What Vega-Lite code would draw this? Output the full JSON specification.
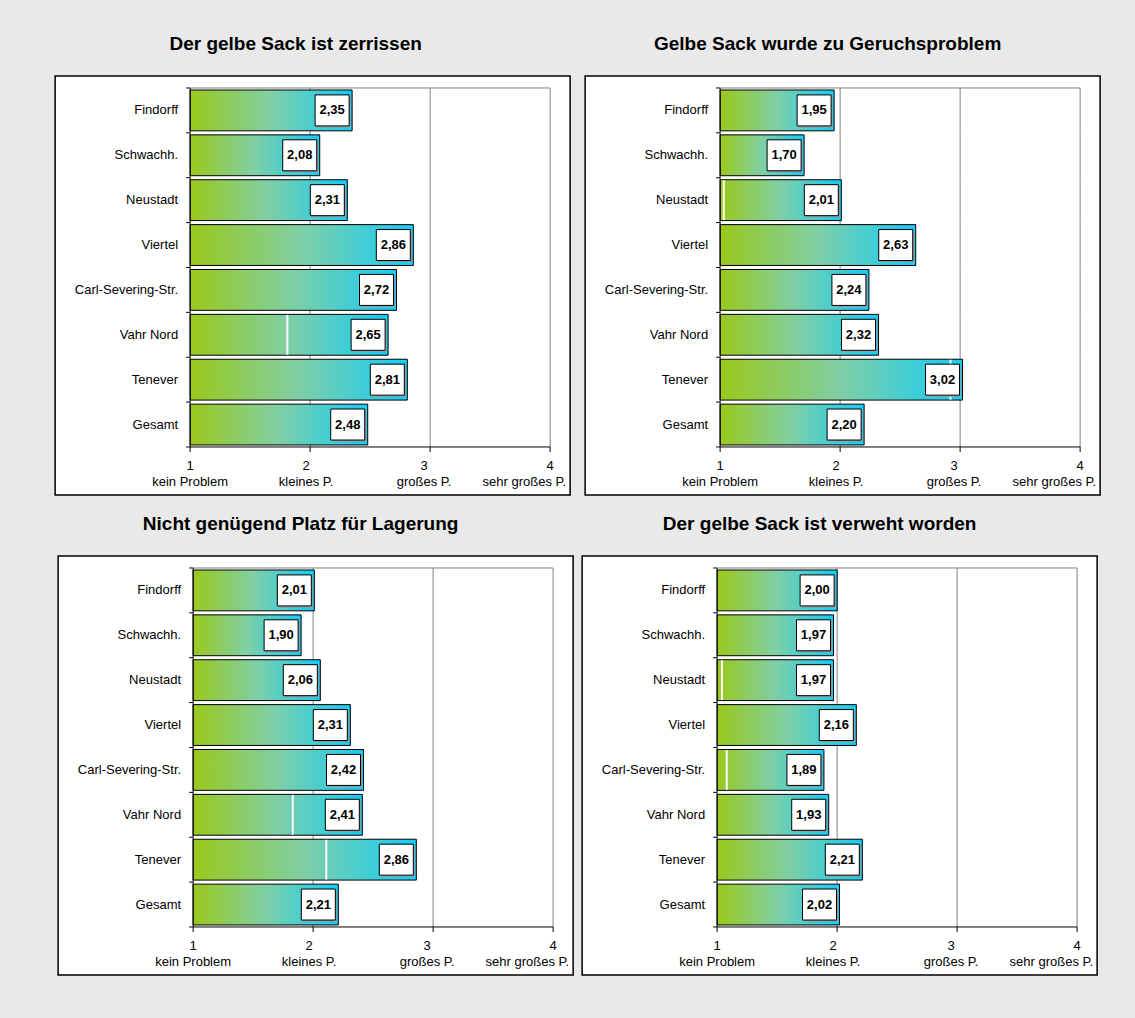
{
  "$schema": "https://vega.github.io/schema/vega-lite/v6.json",
  "background": "#e9e9e9",
  "padding": {"left": 54, "top": 34, "right": 38, "bottom": 46},
  "config": {
    "view": {"fill": "white", "stroke": "black", "strokeWidth": 1.5},
    "title": {"font": "Liberation Sans", "fontSize": 19, "fontWeight": "bold", "color": "black", "offset": 22, "anchor": "middle"},
    "text": {"font": "Liberation Sans", "fontSize": 13, "color": "black"}
  },
  "datasets": {
    "p1": [
      {"ort": "Findorff", "wert": 2.35}, {"ort": "Schwachh.", "wert": 2.08}, {"ort": "Neustadt", "wert": 2.31}, {"ort": "Viertel", "wert": 2.86},
      {"ort": "Carl-Severing-Str.", "wert": 2.72}, {"ort": "Vahr Nord", "wert": 2.65, "marke": 1.81}, {"ort": "Tenever", "wert": 2.81}, {"ort": "Gesamt", "wert": 2.48}
    ],
    "p2": [
      {"ort": "Findorff", "wert": 1.95}, {"ort": "Schwachh.", "wert": 1.70}, {"ort": "Neustadt", "wert": 2.01, "marke": 1.03}, {"ort": "Viertel", "wert": 2.63},
      {"ort": "Carl-Severing-Str.", "wert": 2.24}, {"ort": "Vahr Nord", "wert": 2.32}, {"ort": "Tenever", "wert": 3.02, "marke": 2.92}, {"ort": "Gesamt", "wert": 2.20}
    ],
    "p3": [
      {"ort": "Findorff", "wert": 2.01}, {"ort": "Schwachh.", "wert": 1.90}, {"ort": "Neustadt", "wert": 2.06}, {"ort": "Viertel", "wert": 2.31},
      {"ort": "Carl-Severing-Str.", "wert": 2.42}, {"ort": "Vahr Nord", "wert": 2.41, "marke": 1.83}, {"ort": "Tenever", "wert": 2.86, "marke": 2.11}, {"ort": "Gesamt", "wert": 2.21}
    ],
    "p4": [
      {"ort": "Findorff", "wert": 2.00}, {"ort": "Schwachh.", "wert": 1.97}, {"ort": "Neustadt", "wert": 1.97, "marke": 1.04}, {"ort": "Viertel", "wert": 2.16},
      {"ort": "Carl-Severing-Str.", "wert": 1.89, "marke": 1.08}, {"ort": "Vahr Nord", "wert": 1.93}, {"ort": "Tenever", "wert": 2.21}, {"ort": "Gesamt", "wert": 2.02}
    ]
  },
  "spacing": 18,
  "center": true,
  "vconcat": [
    {
      "spacing": 13,
      "hconcat": [
        {
          "width": 515, "height": 419,
          "title": {"text": "Der gelbe Sack ist zerrissen", "dx": -17},
          "data": {"name": "p1"},
          "transform": [{"calculate": "replace(format(datum.wert, '.2f'), '.', ',')", "as": "lab"}],
          "layer": [
            {"mark": {"type": "rule", "color": "#808080", "yOffset": -22.44, "y2Offset": 22.44}, "encoding": {"x": {"datum": 2, "type": "quantitative", "axis": null}, "y": {"field": "ort", "type": "nominal", "axis": null}, "y2": {"field": "ort"}}},
            {"mark": {"type": "rule", "color": "#808080", "yOffset": -22.44, "y2Offset": 22.44}, "encoding": {"x": {"datum": 3, "type": "quantitative", "axis": null}, "y": {"field": "ort", "type": "nominal", "axis": null}, "y2": {"field": "ort"}}},
            {"mark": {"type": "rule", "color": "#808080", "yOffset": -22.44, "y2Offset": 22.44}, "encoding": {"x": {"datum": 4, "type": "quantitative", "axis": null}, "y": {"field": "ort", "type": "nominal", "axis": null}, "y2": {"field": "ort"}}},
            {"transform": [{"filter": {"field": "ort", "equal": "Findorff"}}], "mark": {"type": "rule", "color": "#808080", "yOffset": -22.44}, "encoding": {"x": {"datum": 1, "type": "quantitative", "axis": null}, "x2": {"datum": 4}, "y": {"field": "ort", "type": "nominal", "axis": null}}},
            {"mark": {"type": "bar", "stroke": "black", "strokeWidth": 1, "fill": {"gradient": "linear", "x1": 0, "x2": 1, "y1": 0, "y2": 0, "stops": [{"offset": 0, "color": "#9ac91b"}, {"offset": 0.5, "color": "#7fcfa6"}, {"offset": 1, "color": "#14ccf8"}]}},
             "encoding": {
               "y": {"field": "ort", "type": "nominal", "axis": null, "scale": {"domain": ["Findorff", "Schwachh.", "Neustadt", "Viertel", "Carl-Severing-Str.", "Vahr Nord", "Tenever", "Gesamt"], "paddingInner": 0.09, "paddingOuter": 0.7135, "align": 0.2186, "round": false}},
               "x": {"field": "wert", "type": "quantitative", "axis": null, "scale": {"domain": [-0.125, 4.16667], "nice": false, "zero": false}},
               "x2": {"datum": 1}}},
            {"mark": {"type": "rule", "color": "white", "strokeWidth": 2, "yOffset": -19.9, "y2Offset": 19.9}, "encoding": {"x": {"field": "marke", "type": "quantitative", "axis": null}, "y": {"field": "ort", "type": "nominal", "axis": null}, "y2": {"field": "ort"}}},
            {"mark": {"type": "bar", "fill": "#9a9a9a", "height": 31, "xOffset": -35.5, "x2Offset": -1.5, "yOffset": 1.5}, "encoding": {"y": {"field": "ort", "type": "nominal", "axis": null}, "x": {"field": "wert", "type": "quantitative", "axis": null}, "x2": {"field": "wert"}}},
            {"mark": {"type": "bar", "fill": "white", "stroke": "black", "strokeWidth": 1, "height": 31, "xOffset": -37, "x2Offset": -3}, "encoding": {"y": {"field": "ort", "type": "nominal", "axis": null}, "x": {"field": "wert", "type": "quantitative", "axis": null}, "x2": {"field": "wert"}}},
            {"mark": {"type": "text", "fontWeight": "bold", "xOffset": -20}, "encoding": {"y": {"field": "ort", "type": "nominal", "axis": null}, "x": {"field": "wert", "type": "quantitative", "axis": null}, "text": {"field": "lab"}}},
            {"mark": {"type": "rule", "color": "black", "yOffset": -22.44, "y2Offset": 22.44}, "encoding": {"x": {"datum": 1, "type": "quantitative", "axis": null}, "y": {"field": "ort", "type": "nominal", "axis": null}, "y2": {"field": "ort"}}},
            {"mark": {"type": "rule", "color": "black", "yOffset": -22.44, "xOffset": -4}, "encoding": {"x": {"datum": 1, "type": "quantitative", "axis": null}, "x2": {"datum": 1}, "y": {"field": "ort", "type": "nominal", "axis": null}}},
            {"mark": {"type": "text", "align": "right", "xOffset": -12}, "encoding": {"x": {"datum": 1, "type": "quantitative", "axis": null}, "y": {"field": "ort", "type": "nominal", "axis": null}, "text": {"field": "ort"}}},
            {"transform": [{"filter": {"field": "ort", "equal": "Gesamt"}}],
             "layer": [
               {"mark": {"type": "rule", "color": "black", "yOffset": 22.44}, "encoding": {"x": {"datum": 1, "type": "quantitative", "axis": null}, "x2": {"datum": 4}, "y": {"field": "ort", "type": "nominal", "axis": null}}},
               {"mark": {"type": "rule", "color": "black", "yOffset": 22.44, "xOffset": -4}, "encoding": {"x": {"datum": 1, "type": "quantitative", "axis": null}, "x2": {"datum": 1}, "y": {"field": "ort", "type": "nominal", "axis": null}}},
               {"mark": {"type": "rule", "color": "black", "yOffset": 22.44, "y2Offset": 27.44}, "encoding": {"x": {"datum": 1, "type": "quantitative", "axis": null}, "y": {"field": "ort", "type": "nominal", "axis": null}, "y2": {"field": "ort"}}},
               {"mark": {"type": "rule", "color": "black", "yOffset": 22.44, "y2Offset": 27.44}, "encoding": {"x": {"datum": 2, "type": "quantitative", "axis": null}, "y": {"field": "ort", "type": "nominal", "axis": null}, "y2": {"field": "ort"}}},
               {"mark": {"type": "rule", "color": "black", "yOffset": 22.44, "y2Offset": 27.44}, "encoding": {"x": {"datum": 3, "type": "quantitative", "axis": null}, "y": {"field": "ort", "type": "nominal", "axis": null}, "y2": {"field": "ort"}}},
               {"mark": {"type": "rule", "color": "black", "yOffset": 22.44, "y2Offset": 27.44}, "encoding": {"x": {"datum": 4, "type": "quantitative", "axis": null}, "y": {"field": "ort", "type": "nominal", "axis": null}, "y2": {"field": "ort"}}},
               {"mark": {"type": "text", "align": "center", "baseline": "top", "lineHeight": 16, "yOffset": 35.7}, "encoding": {"x": {"datum": 1, "type": "quantitative", "axis": null}, "y": {"field": "ort", "type": "nominal", "axis": null}, "text": {"value": ["1", "kein Problem"]}}},
               {"mark": {"type": "text", "align": "center", "baseline": "top", "lineHeight": 16, "yOffset": 35.7, "xOffset": -4}, "encoding": {"x": {"datum": 2, "type": "quantitative", "axis": null}, "y": {"field": "ort", "type": "nominal", "axis": null}, "text": {"value": ["2", "kleines P."]}}},
               {"mark": {"type": "text", "align": "center", "baseline": "top", "lineHeight": 16, "yOffset": 35.7, "xOffset": -6}, "encoding": {"x": {"datum": 3, "type": "quantitative", "axis": null}, "y": {"field": "ort", "type": "nominal", "axis": null}, "text": {"value": ["3", "großes P."]}}},
               {"mark": {"type": "text", "align": "center", "baseline": "top", "lineHeight": 16, "yOffset": 35.7}, "encoding": {"x": {"datum": 4, "type": "quantitative", "axis": null}, "y": {"field": "ort", "type": "nominal", "axis": null}, "text": {"value": ["4", ""]}}},
               {"mark": {"type": "text", "align": "right", "baseline": "top", "lineHeight": 16, "yOffset": 35.7, "xOffset": 16}, "encoding": {"x": {"datum": 4, "type": "quantitative", "axis": null}, "y": {"field": "ort", "type": "nominal", "axis": null}, "text": {"value": ["", "sehr großes P."]}}}
             ]}
          ]
        },
        {
          "width": 515, "height": 419,
          "title": {"text": "Gelbe Sack wurde zu Geruchsproblem", "dx": -15},
          "data": {"name": "p2"},
          "transform": [{"calculate": "replace(format(datum.wert, '.2f'), '.', ',')", "as": "lab"}],
          "layer": [
            {"mark": {"type": "rule", "color": "#808080", "yOffset": -22.44, "y2Offset": 22.44}, "encoding": {"x": {"datum": 2, "type": "quantitative", "axis": null}, "y": {"field": "ort", "type": "nominal", "axis": null}, "y2": {"field": "ort"}}},
            {"mark": {"type": "rule", "color": "#808080", "yOffset": -22.44, "y2Offset": 22.44}, "encoding": {"x": {"datum": 3, "type": "quantitative", "axis": null}, "y": {"field": "ort", "type": "nominal", "axis": null}, "y2": {"field": "ort"}}},
            {"mark": {"type": "rule", "color": "#808080", "yOffset": -22.44, "y2Offset": 22.44}, "encoding": {"x": {"datum": 4, "type": "quantitative", "axis": null}, "y": {"field": "ort", "type": "nominal", "axis": null}, "y2": {"field": "ort"}}},
            {"transform": [{"filter": {"field": "ort", "equal": "Findorff"}}], "mark": {"type": "rule", "color": "#808080", "yOffset": -22.44}, "encoding": {"x": {"datum": 1, "type": "quantitative", "axis": null}, "x2": {"datum": 4}, "y": {"field": "ort", "type": "nominal", "axis": null}}},
            {"mark": {"type": "bar", "stroke": "black", "strokeWidth": 1, "fill": {"gradient": "linear", "x1": 0, "x2": 1, "y1": 0, "y2": 0, "stops": [{"offset": 0, "color": "#9ac91b"}, {"offset": 0.5, "color": "#7fcfa6"}, {"offset": 1, "color": "#14ccf8"}]}},
             "encoding": {
               "y": {"field": "ort", "type": "nominal", "axis": null, "scale": {"domain": ["Findorff", "Schwachh.", "Neustadt", "Viertel", "Carl-Severing-Str.", "Vahr Nord", "Tenever", "Gesamt"], "paddingInner": 0.09, "paddingOuter": 0.7135, "align": 0.2186, "round": false}},
               "x": {"field": "wert", "type": "quantitative", "axis": null, "scale": {"domain": [-0.125, 4.16667], "nice": false, "zero": false}},
               "x2": {"datum": 1}}},
            {"mark": {"type": "rule", "color": "white", "strokeWidth": 2, "yOffset": -19.9, "y2Offset": 19.9}, "encoding": {"x": {"field": "marke", "type": "quantitative", "axis": null}, "y": {"field": "ort", "type": "nominal", "axis": null}, "y2": {"field": "ort"}}},
            {"mark": {"type": "bar", "fill": "#9a9a9a", "height": 31, "xOffset": -35.5, "x2Offset": -1.5, "yOffset": 1.5}, "encoding": {"y": {"field": "ort", "type": "nominal", "axis": null}, "x": {"field": "wert", "type": "quantitative", "axis": null}, "x2": {"field": "wert"}}},
            {"mark": {"type": "bar", "fill": "white", "stroke": "black", "strokeWidth": 1, "height": 31, "xOffset": -37, "x2Offset": -3}, "encoding": {"y": {"field": "ort", "type": "nominal", "axis": null}, "x": {"field": "wert", "type": "quantitative", "axis": null}, "x2": {"field": "wert"}}},
            {"mark": {"type": "text", "fontWeight": "bold", "xOffset": -20}, "encoding": {"y": {"field": "ort", "type": "nominal", "axis": null}, "x": {"field": "wert", "type": "quantitative", "axis": null}, "text": {"field": "lab"}}},
            {"mark": {"type": "rule", "color": "black", "yOffset": -22.44, "y2Offset": 22.44}, "encoding": {"x": {"datum": 1, "type": "quantitative", "axis": null}, "y": {"field": "ort", "type": "nominal", "axis": null}, "y2": {"field": "ort"}}},
            {"mark": {"type": "rule", "color": "black", "yOffset": -22.44, "xOffset": -4}, "encoding": {"x": {"datum": 1, "type": "quantitative", "axis": null}, "x2": {"datum": 1}, "y": {"field": "ort", "type": "nominal", "axis": null}}},
            {"mark": {"type": "text", "align": "right", "xOffset": -12}, "encoding": {"x": {"datum": 1, "type": "quantitative", "axis": null}, "y": {"field": "ort", "type": "nominal", "axis": null}, "text": {"field": "ort"}}},
            {"transform": [{"filter": {"field": "ort", "equal": "Gesamt"}}],
             "layer": [
               {"mark": {"type": "rule", "color": "black", "yOffset": 22.44}, "encoding": {"x": {"datum": 1, "type": "quantitative", "axis": null}, "x2": {"datum": 4}, "y": {"field": "ort", "type": "nominal", "axis": null}}},
               {"mark": {"type": "rule", "color": "black", "yOffset": 22.44, "xOffset": -4}, "encoding": {"x": {"datum": 1, "type": "quantitative", "axis": null}, "x2": {"datum": 1}, "y": {"field": "ort", "type": "nominal", "axis": null}}},
               {"mark": {"type": "rule", "color": "black", "yOffset": 22.44, "y2Offset": 27.44}, "encoding": {"x": {"datum": 1, "type": "quantitative", "axis": null}, "y": {"field": "ort", "type": "nominal", "axis": null}, "y2": {"field": "ort"}}},
               {"mark": {"type": "rule", "color": "black", "yOffset": 22.44, "y2Offset": 27.44}, "encoding": {"x": {"datum": 2, "type": "quantitative", "axis": null}, "y": {"field": "ort", "type": "nominal", "axis": null}, "y2": {"field": "ort"}}},
               {"mark": {"type": "rule", "color": "black", "yOffset": 22.44, "y2Offset": 27.44}, "encoding": {"x": {"datum": 3, "type": "quantitative", "axis": null}, "y": {"field": "ort", "type": "nominal", "axis": null}, "y2": {"field": "ort"}}},
               {"mark": {"type": "rule", "color": "black", "yOffset": 22.44, "y2Offset": 27.44}, "encoding": {"x": {"datum": 4, "type": "quantitative", "axis": null}, "y": {"field": "ort", "type": "nominal", "axis": null}, "y2": {"field": "ort"}}},
               {"mark": {"type": "text", "align": "center", "baseline": "top", "lineHeight": 16, "yOffset": 35.7}, "encoding": {"x": {"datum": 1, "type": "quantitative", "axis": null}, "y": {"field": "ort", "type": "nominal", "axis": null}, "text": {"value": ["1", "kein Problem"]}}},
               {"mark": {"type": "text", "align": "center", "baseline": "top", "lineHeight": 16, "yOffset": 35.7, "xOffset": -4}, "encoding": {"x": {"datum": 2, "type": "quantitative", "axis": null}, "y": {"field": "ort", "type": "nominal", "axis": null}, "text": {"value": ["2", "kleines P."]}}},
               {"mark": {"type": "text", "align": "center", "baseline": "top", "lineHeight": 16, "yOffset": 35.7, "xOffset": -6}, "encoding": {"x": {"datum": 3, "type": "quantitative", "axis": null}, "y": {"field": "ort", "type": "nominal", "axis": null}, "text": {"value": ["3", "großes P."]}}},
               {"mark": {"type": "text", "align": "center", "baseline": "top", "lineHeight": 16, "yOffset": 35.7}, "encoding": {"x": {"datum": 4, "type": "quantitative", "axis": null}, "y": {"field": "ort", "type": "nominal", "axis": null}, "text": {"value": ["4", ""]}}},
               {"mark": {"type": "text", "align": "right", "baseline": "top", "lineHeight": 16, "yOffset": 35.7, "xOffset": 16}, "encoding": {"x": {"datum": 4, "type": "quantitative", "axis": null}, "y": {"field": "ort", "type": "nominal", "axis": null}, "text": {"value": ["", "sehr großes P."]}}}
             ]}
          ]
        }
      ]
    },
    {
      "spacing": 7,
      "hconcat": [
        {
          "width": 515, "height": 419,
          "title": {"text": "Nicht genügend Platz für Lagerung", "dx": -15},
          "data": {"name": "p3"},
          "transform": [{"calculate": "replace(format(datum.wert, '.2f'), '.', ',')", "as": "lab"}],
          "layer": [
            {"mark": {"type": "rule", "color": "#808080", "yOffset": -22.44, "y2Offset": 22.44}, "encoding": {"x": {"datum": 2, "type": "quantitative", "axis": null}, "y": {"field": "ort", "type": "nominal", "axis": null}, "y2": {"field": "ort"}}},
            {"mark": {"type": "rule", "color": "#808080", "yOffset": -22.44, "y2Offset": 22.44}, "encoding": {"x": {"datum": 3, "type": "quantitative", "axis": null}, "y": {"field": "ort", "type": "nominal", "axis": null}, "y2": {"field": "ort"}}},
            {"mark": {"type": "rule", "color": "#808080", "yOffset": -22.44, "y2Offset": 22.44}, "encoding": {"x": {"datum": 4, "type": "quantitative", "axis": null}, "y": {"field": "ort", "type": "nominal", "axis": null}, "y2": {"field": "ort"}}},
            {"transform": [{"filter": {"field": "ort", "equal": "Findorff"}}], "mark": {"type": "rule", "color": "#808080", "yOffset": -22.44}, "encoding": {"x": {"datum": 1, "type": "quantitative", "axis": null}, "x2": {"datum": 4}, "y": {"field": "ort", "type": "nominal", "axis": null}}},
            {"mark": {"type": "bar", "stroke": "black", "strokeWidth": 1, "fill": {"gradient": "linear", "x1": 0, "x2": 1, "y1": 0, "y2": 0, "stops": [{"offset": 0, "color": "#9ac91b"}, {"offset": 0.5, "color": "#7fcfa6"}, {"offset": 1, "color": "#14ccf8"}]}},
             "encoding": {
               "y": {"field": "ort", "type": "nominal", "axis": null, "scale": {"domain": ["Findorff", "Schwachh.", "Neustadt", "Viertel", "Carl-Severing-Str.", "Vahr Nord", "Tenever", "Gesamt"], "paddingInner": 0.09, "paddingOuter": 0.7135, "align": 0.2186, "round": false}},
               "x": {"field": "wert", "type": "quantitative", "axis": null, "scale": {"domain": [-0.125, 4.16667], "nice": false, "zero": false}},
               "x2": {"datum": 1}}},
            {"mark": {"type": "rule", "color": "white", "strokeWidth": 2, "yOffset": -19.9, "y2Offset": 19.9}, "encoding": {"x": {"field": "marke", "type": "quantitative", "axis": null}, "y": {"field": "ort", "type": "nominal", "axis": null}, "y2": {"field": "ort"}}},
            {"mark": {"type": "bar", "fill": "#9a9a9a", "height": 31, "xOffset": -35.5, "x2Offset": -1.5, "yOffset": 1.5}, "encoding": {"y": {"field": "ort", "type": "nominal", "axis": null}, "x": {"field": "wert", "type": "quantitative", "axis": null}, "x2": {"field": "wert"}}},
            {"mark": {"type": "bar", "fill": "white", "stroke": "black", "strokeWidth": 1, "height": 31, "xOffset": -37, "x2Offset": -3}, "encoding": {"y": {"field": "ort", "type": "nominal", "axis": null}, "x": {"field": "wert", "type": "quantitative", "axis": null}, "x2": {"field": "wert"}}},
            {"mark": {"type": "text", "fontWeight": "bold", "xOffset": -20}, "encoding": {"y": {"field": "ort", "type": "nominal", "axis": null}, "x": {"field": "wert", "type": "quantitative", "axis": null}, "text": {"field": "lab"}}},
            {"mark": {"type": "rule", "color": "black", "yOffset": -22.44, "y2Offset": 22.44}, "encoding": {"x": {"datum": 1, "type": "quantitative", "axis": null}, "y": {"field": "ort", "type": "nominal", "axis": null}, "y2": {"field": "ort"}}},
            {"mark": {"type": "rule", "color": "black", "yOffset": -22.44, "xOffset": -4}, "encoding": {"x": {"datum": 1, "type": "quantitative", "axis": null}, "x2": {"datum": 1}, "y": {"field": "ort", "type": "nominal", "axis": null}}},
            {"mark": {"type": "text", "align": "right", "xOffset": -12}, "encoding": {"x": {"datum": 1, "type": "quantitative", "axis": null}, "y": {"field": "ort", "type": "nominal", "axis": null}, "text": {"field": "ort"}}},
            {"transform": [{"filter": {"field": "ort", "equal": "Gesamt"}}],
             "layer": [
               {"mark": {"type": "rule", "color": "black", "yOffset": 22.44}, "encoding": {"x": {"datum": 1, "type": "quantitative", "axis": null}, "x2": {"datum": 4}, "y": {"field": "ort", "type": "nominal", "axis": null}}},
               {"mark": {"type": "rule", "color": "black", "yOffset": 22.44, "xOffset": -4}, "encoding": {"x": {"datum": 1, "type": "quantitative", "axis": null}, "x2": {"datum": 1}, "y": {"field": "ort", "type": "nominal", "axis": null}}},
               {"mark": {"type": "rule", "color": "black", "yOffset": 22.44, "y2Offset": 27.44}, "encoding": {"x": {"datum": 1, "type": "quantitative", "axis": null}, "y": {"field": "ort", "type": "nominal", "axis": null}, "y2": {"field": "ort"}}},
               {"mark": {"type": "rule", "color": "black", "yOffset": 22.44, "y2Offset": 27.44}, "encoding": {"x": {"datum": 2, "type": "quantitative", "axis": null}, "y": {"field": "ort", "type": "nominal", "axis": null}, "y2": {"field": "ort"}}},
               {"mark": {"type": "rule", "color": "black", "yOffset": 22.44, "y2Offset": 27.44}, "encoding": {"x": {"datum": 3, "type": "quantitative", "axis": null}, "y": {"field": "ort", "type": "nominal", "axis": null}, "y2": {"field": "ort"}}},
               {"mark": {"type": "rule", "color": "black", "yOffset": 22.44, "y2Offset": 27.44}, "encoding": {"x": {"datum": 4, "type": "quantitative", "axis": null}, "y": {"field": "ort", "type": "nominal", "axis": null}, "y2": {"field": "ort"}}},
               {"mark": {"type": "text", "align": "center", "baseline": "top", "lineHeight": 16, "yOffset": 35.7}, "encoding": {"x": {"datum": 1, "type": "quantitative", "axis": null}, "y": {"field": "ort", "type": "nominal", "axis": null}, "text": {"value": ["1", "kein Problem"]}}},
               {"mark": {"type": "text", "align": "center", "baseline": "top", "lineHeight": 16, "yOffset": 35.7, "xOffset": -4}, "encoding": {"x": {"datum": 2, "type": "quantitative", "axis": null}, "y": {"field": "ort", "type": "nominal", "axis": null}, "text": {"value": ["2", "kleines P."]}}},
               {"mark": {"type": "text", "align": "center", "baseline": "top", "lineHeight": 16, "yOffset": 35.7, "xOffset": -6}, "encoding": {"x": {"datum": 3, "type": "quantitative", "axis": null}, "y": {"field": "ort", "type": "nominal", "axis": null}, "text": {"value": ["3", "großes P."]}}},
               {"mark": {"type": "text", "align": "center", "baseline": "top", "lineHeight": 16, "yOffset": 35.7}, "encoding": {"x": {"datum": 4, "type": "quantitative", "axis": null}, "y": {"field": "ort", "type": "nominal", "axis": null}, "text": {"value": ["4", ""]}}},
               {"mark": {"type": "text", "align": "right", "baseline": "top", "lineHeight": 16, "yOffset": 35.7, "xOffset": 16}, "encoding": {"x": {"datum": 4, "type": "quantitative", "axis": null}, "y": {"field": "ort", "type": "nominal", "axis": null}, "text": {"value": ["", "sehr großes P."]}}}
             ]}
          ]
        },
        {
          "width": 515, "height": 419,
          "title": {"text": "Der gelbe Sack ist verweht worden", "dx": -20},
          "data": {"name": "p4"},
          "transform": [{"calculate": "replace(format(datum.wert, '.2f'), '.', ',')", "as": "lab"}],
          "layer": [
            {"mark": {"type": "rule", "color": "#808080", "yOffset": -22.44, "y2Offset": 22.44}, "encoding": {"x": {"datum": 2, "type": "quantitative", "axis": null}, "y": {"field": "ort", "type": "nominal", "axis": null}, "y2": {"field": "ort"}}},
            {"mark": {"type": "rule", "color": "#808080", "yOffset": -22.44, "y2Offset": 22.44}, "encoding": {"x": {"datum": 3, "type": "quantitative", "axis": null}, "y": {"field": "ort", "type": "nominal", "axis": null}, "y2": {"field": "ort"}}},
            {"mark": {"type": "rule", "color": "#808080", "yOffset": -22.44, "y2Offset": 22.44}, "encoding": {"x": {"datum": 4, "type": "quantitative", "axis": null}, "y": {"field": "ort", "type": "nominal", "axis": null}, "y2": {"field": "ort"}}},
            {"transform": [{"filter": {"field": "ort", "equal": "Findorff"}}], "mark": {"type": "rule", "color": "#808080", "yOffset": -22.44}, "encoding": {"x": {"datum": 1, "type": "quantitative", "axis": null}, "x2": {"datum": 4}, "y": {"field": "ort", "type": "nominal", "axis": null}}},
            {"mark": {"type": "bar", "stroke": "black", "strokeWidth": 1, "fill": {"gradient": "linear", "x1": 0, "x2": 1, "y1": 0, "y2": 0, "stops": [{"offset": 0, "color": "#9ac91b"}, {"offset": 0.5, "color": "#7fcfa6"}, {"offset": 1, "color": "#14ccf8"}]}},
             "encoding": {
               "y": {"field": "ort", "type": "nominal", "axis": null, "scale": {"domain": ["Findorff", "Schwachh.", "Neustadt", "Viertel", "Carl-Severing-Str.", "Vahr Nord", "Tenever", "Gesamt"], "paddingInner": 0.09, "paddingOuter": 0.7135, "align": 0.2186, "round": false}},
               "x": {"field": "wert", "type": "quantitative", "axis": null, "scale": {"domain": [-0.125, 4.16667], "nice": false, "zero": false}},
               "x2": {"datum": 1}}},
            {"mark": {"type": "rule", "color": "white", "strokeWidth": 2, "yOffset": -19.9, "y2Offset": 19.9}, "encoding": {"x": {"field": "marke", "type": "quantitative", "axis": null}, "y": {"field": "ort", "type": "nominal", "axis": null}, "y2": {"field": "ort"}}},
            {"mark": {"type": "bar", "fill": "#9a9a9a", "height": 31, "xOffset": -35.5, "x2Offset": -1.5, "yOffset": 1.5}, "encoding": {"y": {"field": "ort", "type": "nominal", "axis": null}, "x": {"field": "wert", "type": "quantitative", "axis": null}, "x2": {"field": "wert"}}},
            {"mark": {"type": "bar", "fill": "white", "stroke": "black", "strokeWidth": 1, "height": 31, "xOffset": -37, "x2Offset": -3}, "encoding": {"y": {"field": "ort", "type": "nominal", "axis": null}, "x": {"field": "wert", "type": "quantitative", "axis": null}, "x2": {"field": "wert"}}},
            {"mark": {"type": "text", "fontWeight": "bold", "xOffset": -20}, "encoding": {"y": {"field": "ort", "type": "nominal", "axis": null}, "x": {"field": "wert", "type": "quantitative", "axis": null}, "text": {"field": "lab"}}},
            {"mark": {"type": "rule", "color": "black", "yOffset": -22.44, "y2Offset": 22.44}, "encoding": {"x": {"datum": 1, "type": "quantitative", "axis": null}, "y": {"field": "ort", "type": "nominal", "axis": null}, "y2": {"field": "ort"}}},
            {"mark": {"type": "rule", "color": "black", "yOffset": -22.44, "xOffset": -4}, "encoding": {"x": {"datum": 1, "type": "quantitative", "axis": null}, "x2": {"datum": 1}, "y": {"field": "ort", "type": "nominal", "axis": null}}},
            {"mark": {"type": "text", "align": "right", "xOffset": -12}, "encoding": {"x": {"datum": 1, "type": "quantitative", "axis": null}, "y": {"field": "ort", "type": "nominal", "axis": null}, "text": {"field": "ort"}}},
            {"transform": [{"filter": {"field": "ort", "equal": "Gesamt"}}],
             "layer": [
               {"mark": {"type": "rule", "color": "black", "yOffset": 22.44}, "encoding": {"x": {"datum": 1, "type": "quantitative", "axis": null}, "x2": {"datum": 4}, "y": {"field": "ort", "type": "nominal", "axis": null}}},
               {"mark": {"type": "rule", "color": "black", "yOffset": 22.44, "xOffset": -4}, "encoding": {"x": {"datum": 1, "type": "quantitative", "axis": null}, "x2": {"datum": 1}, "y": {"field": "ort", "type": "nominal", "axis": null}}},
               {"mark": {"type": "rule", "color": "black", "yOffset": 22.44, "y2Offset": 27.44}, "encoding": {"x": {"datum": 1, "type": "quantitative", "axis": null}, "y": {"field": "ort", "type": "nominal", "axis": null}, "y2": {"field": "ort"}}},
               {"mark": {"type": "rule", "color": "black", "yOffset": 22.44, "y2Offset": 27.44}, "encoding": {"x": {"datum": 2, "type": "quantitative", "axis": null}, "y": {"field": "ort", "type": "nominal", "axis": null}, "y2": {"field": "ort"}}},
               {"mark": {"type": "rule", "color": "black", "yOffset": 22.44, "y2Offset": 27.44}, "encoding": {"x": {"datum": 3, "type": "quantitative", "axis": null}, "y": {"field": "ort", "type": "nominal", "axis": null}, "y2": {"field": "ort"}}},
               {"mark": {"type": "rule", "color": "black", "yOffset": 22.44, "y2Offset": 27.44}, "encoding": {"x": {"datum": 4, "type": "quantitative", "axis": null}, "y": {"field": "ort", "type": "nominal", "axis": null}, "y2": {"field": "ort"}}},
               {"mark": {"type": "text", "align": "center", "baseline": "top", "lineHeight": 16, "yOffset": 35.7}, "encoding": {"x": {"datum": 1, "type": "quantitative", "axis": null}, "y": {"field": "ort", "type": "nominal", "axis": null}, "text": {"value": ["1", "kein Problem"]}}},
               {"mark": {"type": "text", "align": "center", "baseline": "top", "lineHeight": 16, "yOffset": 35.7, "xOffset": -4}, "encoding": {"x": {"datum": 2, "type": "quantitative", "axis": null}, "y": {"field": "ort", "type": "nominal", "axis": null}, "text": {"value": ["2", "kleines P."]}}},
               {"mark": {"type": "text", "align": "center", "baseline": "top", "lineHeight": 16, "yOffset": 35.7, "xOffset": -6}, "encoding": {"x": {"datum": 3, "type": "quantitative", "axis": null}, "y": {"field": "ort", "type": "nominal", "axis": null}, "text": {"value": ["3", "großes P."]}}},
               {"mark": {"type": "text", "align": "center", "baseline": "top", "lineHeight": 16, "yOffset": 35.7}, "encoding": {"x": {"datum": 4, "type": "quantitative", "axis": null}, "y": {"field": "ort", "type": "nominal", "axis": null}, "text": {"value": ["4", ""]}}},
               {"mark": {"type": "text", "align": "right", "baseline": "top", "lineHeight": 16, "yOffset": 35.7, "xOffset": 16}, "encoding": {"x": {"datum": 4, "type": "quantitative", "axis": null}, "y": {"field": "ort", "type": "nominal", "axis": null}, "text": {"value": ["", "sehr großes P."]}}}
             ]}
          ]
        }
      ]
    }
  ]
}
